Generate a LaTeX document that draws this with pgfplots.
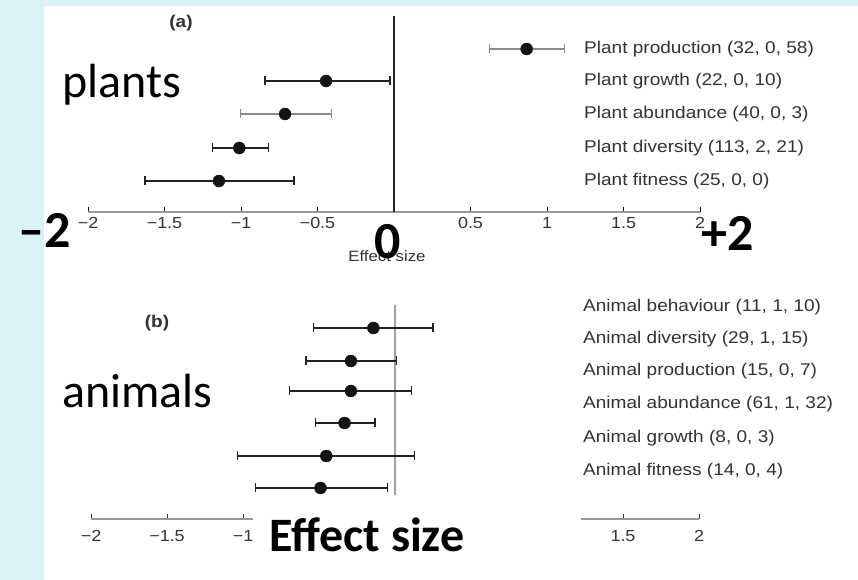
\documentclass[border=0pt]{standalone}
\usepackage{pgfplots}
\pgfplotsset{compat=1.18}
\usepackage{fontspec}
\setmainfont{Liberation Sans}
\newfontfamily\chartfont[FakeStretch=1.12]{Liberation Sans}
\newfontfamily\ovfont{Carlito}
\definecolor{bgblue}{HTML}{DAF3F8}
\definecolor{txtgray}{HTML}{333333}
\definecolor{bargray}{HTML}{8A8A8A}
\definecolor{bardark}{HTML}{222222}
\newcommand{\lab}{\chartfont\fontsize{17pt}{20pt}\selectfont}
\newcommand{\ov}[1]{\ovfont\fontsize{#1pt}{#1pt}\selectfont}
\pgfplotsset{
  ci/.style={draw=#1, line width=2pt, mark=|, mark size=4.5pt,
    mark options={draw=#1, line width=1.2pt, solid}},
  pt/.style={only marks, mark=*, mark size=6pt,
    mark options={fill=black!92, draw=black!92}},
}
\begin{document}
\begin{tikzpicture}[x=1pt,y=1pt]
\useasboundingbox (0,0) rectangle (858,580);
\fill[bgblue] (0,0) rectangle (858,580);
\fill[white] (44,0) rectangle (858,574);

% ---------- panel (a)
\begin{axis}[at={(88pt,368pt)}, anchor=south west, scale only axis,
  width=612pt, height=196pt, xmin=-2, xmax=2, ymin=0, ymax=196,
  clip=false, axis x line=bottom, axis y line=none,
  x axis line style={-, draw=gray!80, line width=1.6pt},
  xtick={-2,-1.5,-1,-0.5,0,0.5,1,1.5,2},
  xticklabels={−2,−1.5,−1,−0.5,{},0.5,1,1.5,2},
  tick align=inside, major tick length=5pt,
  major tick style={draw=black, line width=0.8pt},
  xticklabel style={font=\chartfont\fontsize{16pt}{16pt}\selectfont, text=txtgray, yshift=-2pt},
  ytick=\empty]
\addplot[draw=bardark, line width=1.5pt] coordinates {(0,0) (0,196)};
% CI lines (lower, upper)
\addplot[ci=bargray] coordinates {(0.623,163) (1.113,163)};
\addplot[ci=bardark] coordinates {(-0.843,131) (-0.026,131)};
\addplot[ci=bargray] coordinates {(-1.002,98) (-0.407,98)};
\addplot[ci=bardark] coordinates {(-1.187,64) (-0.821,64)};
\addplot[ci=bardark] coordinates {(-1.627,31) (-0.654,31)};
% point estimates
\addplot[pt] coordinates {(0.867,163) (-0.444,131) (-0.712,98) (-1.011,64) (-1.144,31)};
\end{axis}

% ---------- panel (b)
\begin{axis}[at={(91pt,61pt)}, anchor=south west, scale only axis,
  width=608pt, height=214pt, xmin=-2, xmax=2, ymin=0, ymax=214,
  clip=false, axis x line=bottom, axis y line=none,
  x axis line style={-, draw=gray!80, line width=1.4pt},
  xtick={-2,-1.5,-1,-0.5,0,0.5,1,1.5,2},
  xticklabels={−2,−1.5,−1,{},{},{},{},1.5,2},
  tick align=inside, major tick length=5pt,
  major tick style={draw=black!80, line width=0.8pt},
  xticklabel style={font=\chartfont\fontsize{16pt}{16pt}\selectfont, text=black!80, yshift=-8pt},
  ytick=\empty]
\addplot[draw=gray!75, line width=1.5pt] coordinates {(0,24) (0,214)};
\addplot[ci=bardark] coordinates {(-0.536,191) (0.250,191)};
\addplot[ci=bardark] coordinates {(-0.586,158) (0.010,158)};
\addplot[ci=bardark] coordinates {(-0.693,128) (0.110,128)};
\addplot[ci=bardark] coordinates {(-0.525,96) (-0.131,96)};
\addplot[ci=bardark] coordinates {(-1.038,63) (0.127,63)};
\addplot[ci=bardark] coordinates {(-0.918,31) (-0.050,31)};
\addplot[pt] coordinates {(-0.142,191) (-0.290,158) (-0.290,128) (-0.332,96) (-0.452,63) (-0.490,31)};
\end{axis}

% ---------- row labels
\begin{scope}[every node/.style={anchor=west, inner sep=0pt, text=txtgray, font=\lab}]
\node at (584,531) {Plant production (32, 0, 58)};
\node at (584,499) {Plant growth (22, 0, 10)};
\node at (584,466) {Plant abundance (40, 0, 3)};
\node at (584,432) {Plant diversity (113, 2, 21)};
\node at (584,399) {Plant fitness (25, 0, 0)};
\node at (583,273) {Animal behaviour (11, 1, 10)};
\node at (583,241) {Animal diversity (29, 1, 15)};
\node at (583,209) {Animal production (15, 0, 7)};
\node at (583,176) {Animal abundance (61, 1, 32)};
\node at (583,142) {Animal growth (8, 0, 3)};
\node at (583,109) {Animal fitness (14, 0, 4)};
\end{scope}
\node[inner sep=0pt, text=txtgray, font=\chartfont\bfseries\fontsize{17pt}{17pt}\selectfont] at (181,557) {(a)};
\node[inner sep=0pt, text=txtgray, font=\chartfont\bfseries\fontsize{17pt}{17pt}\selectfont] at (157,257) {(b)};
\node[inner sep=0pt, text=txtgray, font=\chartfont\fontsize{15pt}{15pt}\selectfont] at (387,324) {Effect size};

% ---------- overlay text
\node[anchor=base west, inner sep=0pt, font=\ov{48}] at (62,482) {plants};
\node[anchor=base west, inner sep=0pt, font=\ov{48}] at (62,172) {animals};
\node[anchor=base west, inner sep=0pt, font=\ov{52}\bfseries] at (18,332) {–2};
\node[anchor=base, inner sep=0pt, font=\ov{52}\bfseries] at (388,321) {0};
\node[anchor=base west, inner sep=0pt, font=\ov{52}\bfseries] at (701,329) {+2};
\fill[white] (253,10) rectangle (581,75);
\node[anchor=base west, inner sep=0pt, font=\ov{48}\bfseries] at (269,28) {Effect size};
\end{tikzpicture}
\end{document}
